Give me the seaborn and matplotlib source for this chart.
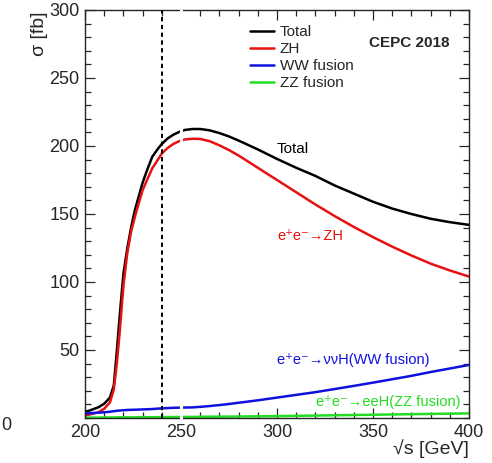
import numpy as np
import pandas as pd
import seaborn as sns
import matplotlib
matplotlib.use("Agg")
import matplotlib.pyplot as plt
from matplotlib.ticker import MultipleLocator
from matplotlib.lines import Line2D

# cross sections
sqrt_s = [200, 203, 207, 210, 213, 215, 216.5, 218, 220, 222, 224, 226, 228, 230, 232,
          235, 238, 240, 243, 246, 249, 252, 256, 260, 265, 270, 275, 280, 290, 300,
          310, 320, 330, 340, 350, 360, 370, 380, 390, 400]
total = [4.4, 5.8, 7.9, 10.5, 15, 24, 48, 74, 106, 124.5, 140, 153, 163, 173, 181,
         192, 198, 201.5, 205.5, 208.3, 210.3, 211.8, 212.5, 212.5, 211.5, 209.5, 207, 204, 197.5, 190.5,
         184, 178, 171, 165, 159, 154, 150, 146.5, 144, 142]
zh = [1.7, 2.8, 4.2, 6.8, 11.5, 21, 39, 62, 97, 121, 137, 148, 158, 167.5, 174,
      183.5, 190, 194.5, 198.5, 201.5, 203.5, 204.8, 205.3, 205.2, 203.5, 200.5, 197, 193, 184, 175,
      166, 157, 148.5, 140.5, 133, 126, 119.5, 113.5, 108.5, 104]
ww = [3.2, 3.6, 3.9, 4.2, 4.6, 5.0, 5.3, 5.5, 5.7, 5.9, 6.0, 6.1, 6.2, 6.3, 6.4,
      6.6, 6.9, 7.1, 7.3, 7.5, 7.6, 7.7, 7.8, 8.2, 8.8, 9.5, 10.3, 11.2, 13, 15,
      17, 19, 21.3, 23.6, 26, 28.5, 31, 33.8, 36.4, 39]
zz = [0.3, 0.3, 0.3, 0.4, 0.4, 0.4, 0.5, 0.5, 0.5, 0.5, 0.5, 0.5, 0.5, 0.6, 0.6,
      0.6, 0.6, 0.7, 0.7, 0.7, 0.7, 0.8, 0.8, 0.9, 0.95, 1.0, 1.05, 1.1, 1.25, 1.4,
      1.6, 1.8, 2.0, 2.2, 2.4, 2.6, 2.8, 3.0, 3.2, 3.4]

series = ['Total', 'ZH', 'WW fusion', 'ZZ fusion']
colors = ['#000000', '#e81010', '#1010e0', '#22dd22']

df = pd.DataFrame({
    'sqrt_s': sqrt_s * 4,
    'sigma': total + zh + ww + zz,
    'process': np.repeat(series, len(sqrt_s)),
})

sns.set_style("ticks")
plt.rcParams['font.family'] = ['Liberation Sans', 'DejaVu Sans']

fig = plt.figure(figsize=(4.92, 4.63), dpi=100)
ax = fig.add_axes([85 / 492, 1 - 418 / 463, 384 / 492, 408 / 463])

sns.lineplot(data=df, x='sqrt_s', y='sigma', hue='process', hue_order=series,
             palette=dict(zip(series, colors)), linewidth=1.8, legend=False, ax=ax,
             zorder=2)

ax.axvline(240, color='black', linestyle=(0, (2.2, 1.8)), linewidth=1.4, zorder=3)
# white gap in the original figure
ax.axvline(250, color='white', linewidth=2.2, zorder=5, clip_on=False)

ax.set_xlim(200, 400)
ax.set_ylim(0, 300)
ax.set_xticks([200, 250, 300, 350, 400])
ax.set_yticks([50, 100, 150, 200, 250, 300])
ax.xaxis.set_minor_locator(MultipleLocator(10))
ax.yaxis.set_minor_locator(MultipleLocator(10))
ax.tick_params(which='both', direction='in', top=True, right=True, labelsize=13, width=0.9)
ax.tick_params(which='major', length=7, pad=4)
ax.tick_params(which='minor', length=4)
for sp in ax.spines.values():
    sp.set_linewidth(1.0)

ax.set_xlabel('')
ax.set_ylabel('')
fig.text(40 / 492, 1 - 12 / 463, 'σ [fb]', rotation=90, ha='center', va='top', fontsize=14)
fig.text(469 / 492, 1 - 449 / 463, '√s [GeV]', ha='right', va='center', fontsize=14)
fig.text(1 / 492, 1 - 425 / 463, '0', ha='left', va='center', fontsize=13)

handles = [Line2D([], [], color=c, linewidth=1.8) for c in colors]
ax.legend(handles, series, loc='upper left', bbox_to_anchor=(165 / 384, 1 - 15 / 408),
          frameon=False, fontsize=11, handlelength=1.6, handletextpad=0.35,
          labelspacing=0.2, borderpad=0, borderaxespad=0)

ax.text(0.74, 1 - 33 / 408, 'CEPC 2018', transform=ax.transAxes, fontsize=11,
        fontweight='bold', ha='left', va='center')
ax.text(300, 198, 'Total', color=colors[0], fontsize=11, ha='left', va='center')
ax.text(300, 134, 'e⁺e⁻→ZH', color=colors[1], fontsize=10.5, ha='left', va='center')
ax.text(300, 43, 'e⁺e⁻→ννH(WW fusion)', color=colors[2], fontsize=10.5,
        ha='left', va='center')
ax.text(320.5, 11.5, 'e⁺e⁻→eeH(ZZ fusion)', color=colors[3], fontsize=10.5,
        ha='left', va='center')

fig.savefig('out.png', dpi=100)
